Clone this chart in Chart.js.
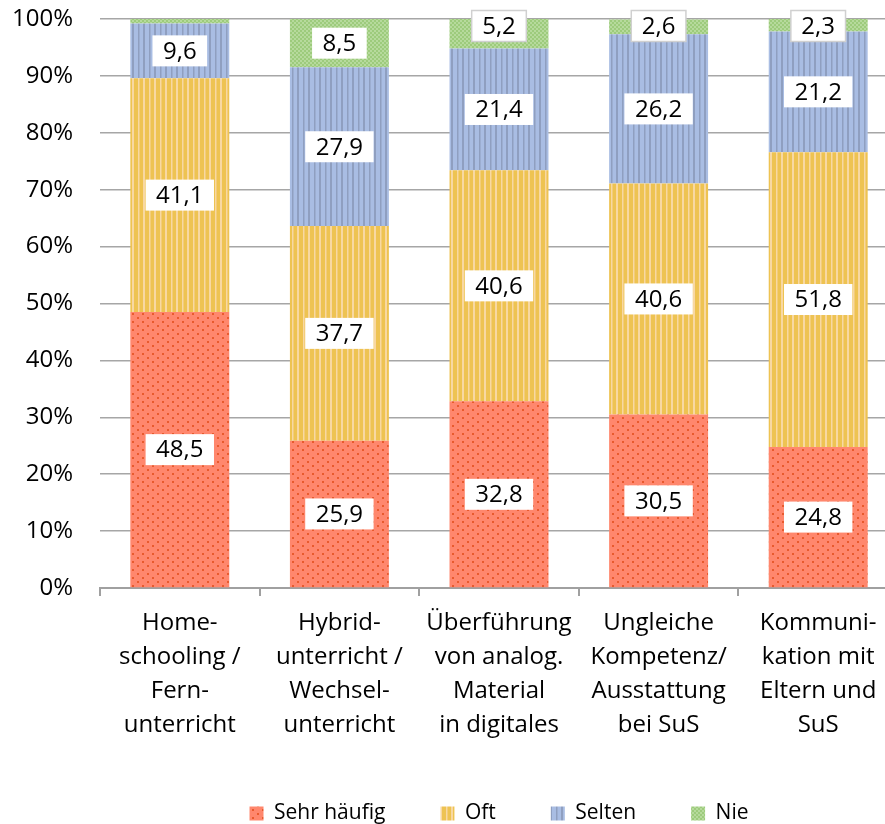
<!DOCTYPE html>
<html>
<head>
<meta charset="utf-8">
<script src="https://cdn.jsdelivr.net/npm/chart.js@4.4.1/dist/chart.umd.min.js"></script>
<style>
  html, body { margin: 0; padding: 0; background: #fff; overflow: hidden; }
  #wrap { width: 898px; height: 824px; }
</style>
</head>
<body>
<div id="wrap"><canvas id="chart" width="898" height="824"></canvas></div>
<script>
const categories = [
  ["Home-", "schooling /", "Fern-", "unterricht"],
  ["Hybrid-", "unterricht /", "Wechsel-", "unterricht"],
  ["Überführung", "von analog.", "Material", "in digitales"],
  ["Ungleiche", "Kompetenz/", "Ausstattung", "bei SuS"],
  ["Kommuni-", "kation mit", "Eltern und", "SuS"]
];
const sehrHaeufig = [48.5, 25.9, 32.8, 30.5, 24.8];
const oft = [41.1, 37.7, 40.6, 40.6, 51.8];
const selten = [9.6, 27.9, 21.4, 26.2, 21.2];
const nie = [0.8, 8.5, 5.2, 2.6, 2.3];
const seriesNames = ["Sehr häufig", "Oft", "Selten", "Nie"];

const FONT = "'Open Sans', sans-serif";

// small tiles for the Excel-like fill patterns
function makePattern(w, h, draw) {
  const c = document.createElement("canvas");
  c.width = w; c.height = h;
  const g = c.getContext("2d");
  draw(g);
  return g.createPattern(c, "repeat");
}
const redFill = makePattern(10, 8, g => {
  g.fillStyle = "#ff876d"; g.fillRect(0, 0, 10, 8);
  g.fillStyle = "#e85a2e";
  g.fillRect(2, 1, 2, 2); g.fillRect(7, 5, 2, 2);
});
const yellowFill = makePattern(11, 4, g => {
  g.fillStyle = "#eec352"; g.fillRect(0, 0, 11, 4);
  g.fillStyle = "#f8d8a2";
  g.fillRect(0, 0, 2, 4); g.fillRect(6, 0, 1.5, 4);
});
const blueFill = makePattern(11, 4, g => {
  g.fillStyle = "#a9bde3"; g.fillRect(0, 0, 11, 4);
  g.fillStyle = "#8f9fc0";
  g.fillRect(0, 0, 2, 4); g.fillRect(6, 0, 1.5, 4);
});
const greenFill = makePattern(4, 4, g => {
  g.fillStyle = "#9dcb7c"; g.fillRect(0, 0, 4, 4);
  g.fillStyle = "#b6da9c";
  g.fillRect(0, 0, 2, 2); g.fillRect(2, 2, 2, 2);
});

const valueLabels = {
  id: "valueLabels",
  afterDatasetsDraw(chart) {
    const ctx = chart.ctx;
    const top = chart.chartArea.top;
    ctx.save();
    ctx.font = "24px " + FONT;
    ctx.textAlign = "center";
    ctx.textBaseline = "middle";
    chart.data.datasets.forEach((ds, i) => {
      const meta = chart.getDatasetMeta(i);
      meta.data.forEach((bar, j) => {
        const v = ds.data[j];
        if (v < 1) return;
        const p = bar.getProps(["x", "y", "base"], true);
        const txt = v.toFixed(1).replace(".", ",");
        const w = ctx.measureText(txt).width + 21;
        const h = 31;
        let cy = (p.y + p.base) / 2;
        const small = Math.abs(p.base - p.y) < h;
        if (small) cy = top + 7;
        ctx.fillStyle = "#fff";
        ctx.fillRect(p.x - w / 2, cy - h / 2, w, h);
        if (small) {
          ctx.strokeStyle = "#d0d0d0";
          ctx.lineWidth = 1.5;
          ctx.strokeRect(p.x - w / 2, cy - h / 2, w, h);
        }
        ctx.fillStyle = "#000";
        ctx.fillText(txt, p.x, cy + 1);
      });
    });
    ctx.restore();
  }
};

new Chart(document.getElementById("chart"), {
  type: "bar",
  data: {
    labels: categories,
    datasets: [
      { label: seriesNames[0], data: sehrHaeufig, backgroundColor: redFill },
      { label: seriesNames[1], data: oft, backgroundColor: yellowFill },
      { label: seriesNames[2], data: selten, backgroundColor: blueFill },
      { label: seriesNames[3], data: nie, backgroundColor: greenFill }
    ]
  },
  options: {
    responsive: false,
    animation: false,
    layout: { padding: { top: 19, left: 0, right: 0, bottom: -10 } },
    datasets: {
      bar: { barPercentage: 1, categoryPercentage: 0.62, borderWidth: 0 }
    },
    scales: {
      x: {
        stacked: true,
        afterFit(scale) { scale.height = 160; },
        grid: { drawOnChartArea: false, drawTicks: true, tickLength: 8, color: "#a0a0a0", lineWidth: 2 },
        border: { display: true, color: "#a0a0a0", width: 2 },
        ticks: { color: "#000", font: { family: FONT, size: 24, lineHeight: 1.42 }, padding: 10, maxRotation: 0, autoSkip: false }
      },
      y: {
        stacked: true,
        min: 0,
        max: 100,
        afterFit(scale) { scale.width = 100; },
        grid: { color: "#a6a6a6", lineWidth: 1.5, drawTicks: true, tickLength: 27, tickColor: "rgba(0,0,0,0)" },
        border: { display: false },
        ticks: {
          stepSize: 10,
          color: "#000",
          padding: 0,
          font: { family: FONT, size: 24 },
          callback: v => v + "%"
        }
      }
    },
    plugins: {
      legend: {
        position: "bottom",
        fullSize: false,
        labels: {
          color: "#000",
          font: { family: FONT, size: 21 },
          boxWidth: 14,
          boxHeight: 14,
          padding: 55
        }
      },
      tooltip: { enabled: false }
    }
  },
  plugins: [valueLabels]
});
</script>
</body>
</html>
